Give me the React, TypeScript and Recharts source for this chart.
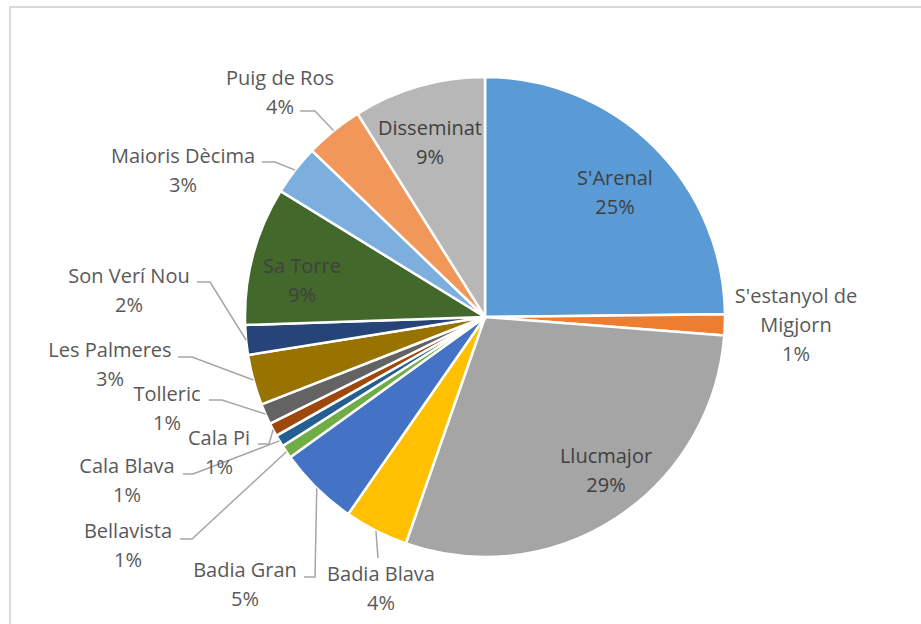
import React from 'react';
import { PieChart, Pie, Cell } from 'recharts';

const categories = [
  "S'Arenal",
  "S'estanyol de Migjorn",
  'Llucmajor',
  'Badia Blava',
  'Badia Gran',
  'Bellavista',
  'Cala Blava',
  'Cala Pi',
  'Tolleric',
  'Les Palmeres',
  'Son Verí Nou',
  'Sa Torre',
  'Maioris Dècima',
  'Puig de Ros',
  'Disseminat',
];

const shares = [24.8, 1.4, 29.1, 4.3, 5.4, 0.9, 0.8, 0.9, 1.4, 3.4, 2.0, 9.3, 3.4, 3.9, 8.9];

const colors = [
  '#5B9BD5',
  '#ED7D31',
  '#A5A5A5',
  '#FFC000',
  '#4472C4',
  '#70AD47',
  '#255E91',
  '#9E480E',
  '#636363',
  '#997300',
  '#264478',
  '#43682B',
  '#7CAFDD',
  '#F1975A',
  '#B7B7B7',
];

type Layout = { x: number; y: number; inside?: boolean; wrap?: number; path?: [number, number][] };

const labelLayout: Layout[] = [
  { x: 615, y: 185, inside: true },
  { x: 796, y: 303, wrap: 2 },
  { x: 606, y: 463, inside: true },
  { x: 381, y: 581, path: [[378, 558]] },
  { x: 245, y: 577, path: [[304, 577], [315, 577]] },
  { x: 128, y: 538, path: [[180, 539], [192, 539]] },
  { x: 127, y: 473, path: [[183, 474], [193, 474]] },
  { x: 219, y: 445, path: [[258, 444], [269, 444]] },
  { x: 167, y: 401, path: [[209, 400], [222, 400]] },
  { x: 110, y: 357, path: [[178, 357], [192, 357]] },
  { x: 129, y: 283, path: [[197, 282], [210, 282]] },
  { x: 302, y: 273, inside: true },
  { x: 183, y: 163, path: [[262, 162], [275, 162]] },
  { x: 280, y: 85, path: [[300, 111], [315, 111]] },
  { x: 430, y: 135, inside: true },
];

const data = categories.map((name, i) => ({ name, value: shares[i] }));

const RAD = Math.PI / 180;
const FONT = "'Open Sans', sans-serif";
const LINE = 29;

const renderLabel = (props: any) => {
  const { cx, cy, midAngle, outerRadius, percent, index, name } = props;
  const lay = labelLayout[index];
  if (!lay) return null;
  const pct = `${Math.round(percent * 100)}%`;
  let lines: string[];
  if (lay.wrap) {
    const words = String(name).split(' ');
    lines = [words.slice(0, lay.wrap).join(' '), words.slice(lay.wrap).join(' '), pct];
  } else {
    lines = [String(name), pct];
  }
  const sx = cx + outerRadius * Math.cos(-midAngle * RAD);
  const sy = cy + outerRadius * Math.sin(-midAngle * RAD);
  const pts = lay.path ? [...lay.path, [sx, sy]] : null;
  return (
    <g key={`lbl-${index}`}>
      {pts && (
        <polyline
          points={pts.map((p) => p.join(',')).join(' ')}
          fill="none"
          stroke="#A6A6A6"
          strokeWidth={1.5}
        />
      )}
      <text
        x={lay.x}
        y={lay.y}
        textAnchor="middle"
        fontFamily={FONT}
        fontSize={20}
        fill={lay.inside ? '#404040' : '#595959'}
      >
        {lines.map((t, i) => (
          <tspan key={i} x={lay.x} y={lay.y + i * LINE}>
            {t}
          </tspan>
        ))}
      </text>
    </g>
  );
};

export default function App() {
  return (
    <div
      style={{
        position: 'absolute',
        left: 0,
        top: 0,
        width: 921,
        height: 624,
        overflow: 'hidden',
        background: '#fff',
      }}
    >
      <div
        style={{
          position: 'absolute',
          left: 9,
          top: 6,
          width: 1000,
          height: 1000,
          border: '2px solid #D9D9D9',
        }}
      />
      <div style={{ position: 'absolute', left: 0, top: 0 }}>
        <PieChart width={921} height={624} margin={{ top: 0, right: 0, bottom: 0, left: 0 }}>
          <Pie
            data={data}
            dataKey="value"
            nameKey="name"
            cx={485}
            cy={317}
            outerRadius={240}
            startAngle={90}
            endAngle={-270}
            stroke="#FFFFFF"
            strokeWidth={2.5}
            isAnimationActive={false}
            label={renderLabel}
            labelLine={false}
          >
            {data.map((d, i) => (
              <Cell key={d.name} fill={colors[i]} />
            ))}
          </Pie>
        </PieChart>
      </div>
    </div>
  );
}
